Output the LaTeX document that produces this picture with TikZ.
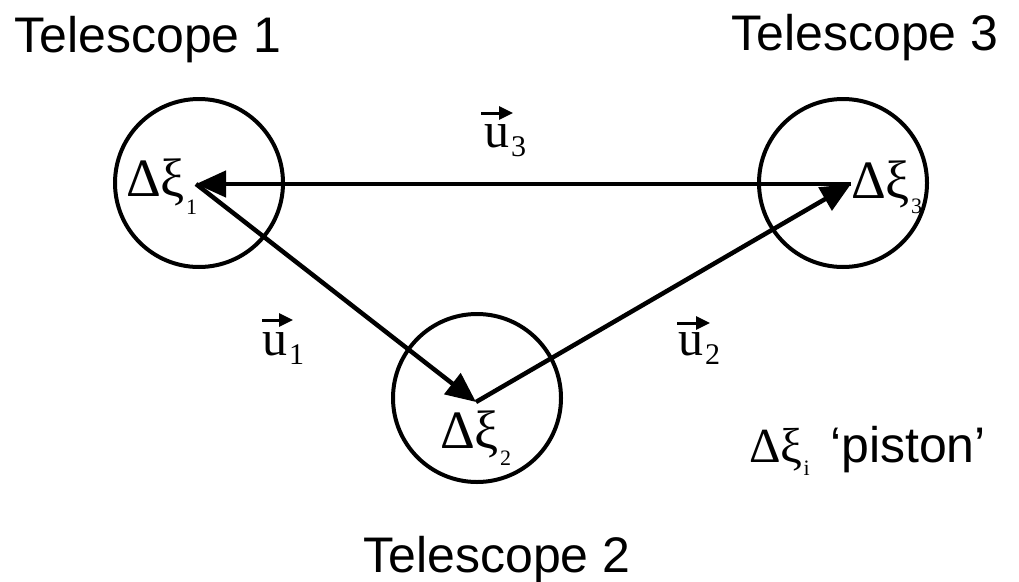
\documentclass[tikz,border=0pt]{standalone}
\usepackage{fontspec}
\setmainfont{Liberation Sans}
\newfontfamily\serifgr{Liberation Serif}
\usetikzlibrary{arrows.meta,calc}
\newcommand\dxi[3][18pt]{{\serifgr\fontsize{#3}{#3}\selectfont Δξ\kern1pt\raisebox{-#1}{\fontsize{22}{22}\selectfont #2}}}
\newcommand\uvl[1]{{\serifgr\fontsize{50}{50}\selectfont u\kern2pt\raisebox{-9pt}{\fontsize{30}{30}\selectfont #1}}}
\begin{document}
\begin{tikzpicture}[x=1pt,y=-1pt,
  scope circ/.style={draw, circle, line width=4pt, minimum size=168pt, inner sep=0pt},
  vecline/.style={line width=4.5pt, -{Triangle[length=30pt,width=26pt]}},
  uarrow/.style={line width=3pt, -{Triangle[length=14pt,width=13pt]}},
  lbl/.style={inner sep=0pt, anchor=base west},
  tel/.style={inner sep=0pt, anchor=base, font=\fontsize{50}{50}\selectfont}]
\useasboundingbox (0,0) rectangle (1019,581);
\coordinate (p1) at (196,184);
\coordinate (p2) at (476,402);
\coordinate (p3) at (851,184);
\node[scope circ] (c1) at (199,183) {};
\node[scope circ] (c3) at (843,183) {};
\node[scope circ] (c2) at (477,398) {};
\draw[vecline] (p3) -- (p1);
\draw[vecline] (p1) -- (p2);
\draw[vecline] (p2) -- (p3);
\node[lbl] (d1) at (126,196) {\dxi{1}{54}};
\node[lbl] (d3) at (851,198) {\dxi[15pt]{3}{54}};
\node[lbl] (d2) at (440,448) {\dxi[17pt]{2}{54}};
\node[lbl] (di) at (749,462) {\dxi[13pt]{i}{49}};
\node[lbl, font=\fontsize{50}{50}\selectfont] (pis) at (830,462) {‘piston’};
\node[lbl] (u1) at (262,355) {\uvl{1}};
\node[lbl] (u2) at (678,355) {\uvl{2}};
\node[lbl] (u3) at (484,147) {\uvl{3}};
\draw[uarrow] ($(u1.base west)+(0,-35)$) -- ($(u1.base west)+(31,-35)$);
\draw[uarrow] ($(u2.base west)+(-1,-32)$) -- ($(u2.base west)+(32,-32)$);
\draw[uarrow] ($(u3.base west)+(-3,-34)$) -- ($(u3.base west)+(29,-34)$);
\node[tel] (t1) at (148,52) {Telescope 1};
\node[tel] (t3) at (865,50) {Telescope 3};
\node[tel] (t2) at (497,572) {Telescope 2};
\end{tikzpicture}
\end{document}
